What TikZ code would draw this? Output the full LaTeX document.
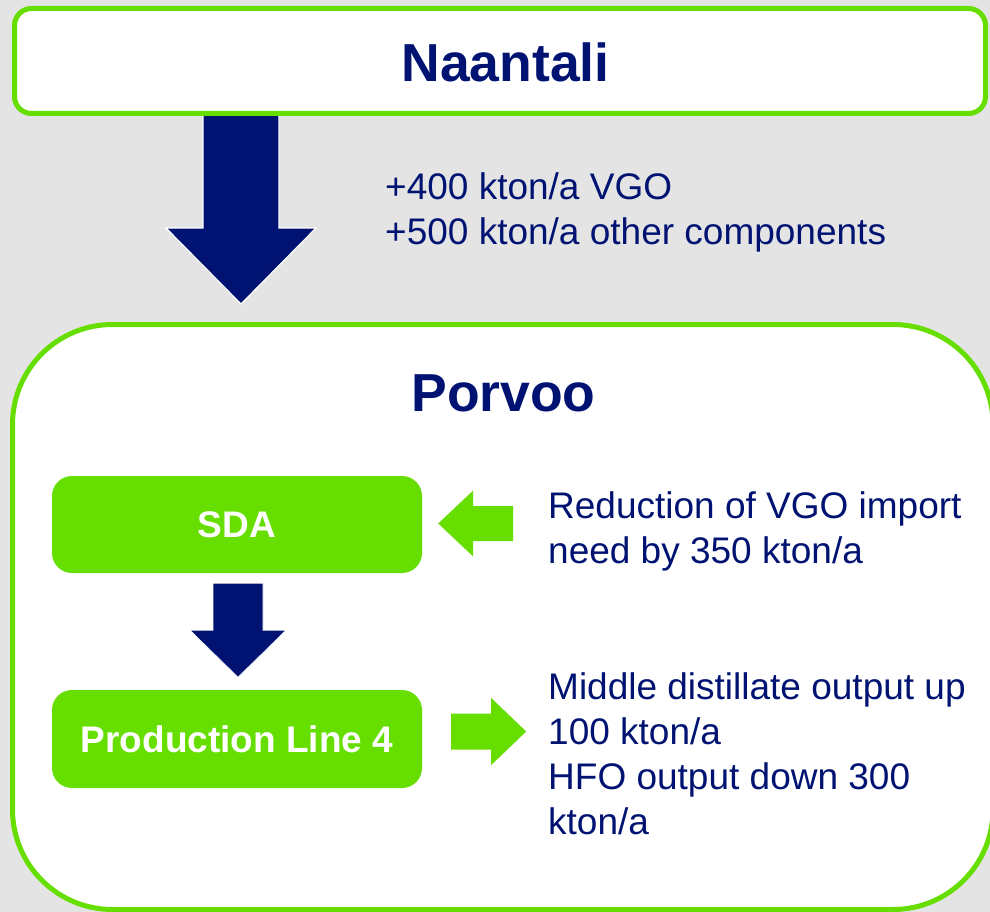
\documentclass[tikz,border=0pt]{standalone}
\usepackage{fontspec}
\setmainfont{Liberation Sans}
\usetikzlibrary{positioning,calc}

\definecolor{navy}{RGB}{0,19,114}
\definecolor{lime}{RGB}{102,222,0}
\definecolor{bggray}{RGB}{228,228,228}

\begin{document}
\begin{tikzpicture}[x=1pt,y=-1pt,
  sitebox/.style={draw=lime,line width=5pt,fill=white,inner sep=0pt},
  title/.style={text=navy,font=\fontsize{53.5}{60}\selectfont\bfseries,inner sep=0pt},
  unitbox/.style={fill=lime,rounded corners=20pt,text=white,font=\fontsize{37}{44}\selectfont\bfseries,minimum width=370pt},
  note/.style={text=navy,font=\fontsize{37}{45}\selectfont,align=left,anchor=north west,inner sep=0pt},
  bigflow/.style={fill=navy,draw=white,line width=1.2pt},
  sideflow/.style={fill=lime}]
\path[use as bounding box,clip] (0,0) rectangle (990,912);
\fill[bggray] (0,0) rectangle (990,912);

% flow from Naantali down to Porvoo
\coordinate (flow) at (241,112);
\filldraw[bigflow] (flow) ++(-38,0) -- ++(0,116) -- ++(-37,0) -- ++(75,76)
  -- ++(75,-76) -- ++(-37,0) -- ++(0,-116) -- cycle;

\node[sitebox,rounded corners=17pt,minimum width=971pt,minimum height=105pt] (naantali) at (500,61) {};
\node[title,anchor=base] (naantalilabel) at (505.5,82) {Naantali};

\node[note] (import) at (385,172.6) {+400 kton/a VGO\\+500 kton/a other components};

% Porvoo site
\node[sitebox,rounded corners=100pt,minimum width=980.5pt,minimum height=585pt] (porvoo) at (502.75,617) {};
\node[title,anchor=base] (porvoolabel) at (503.5,411) {Porvoo};

\node[unitbox,minimum height=97pt] (sda) at (237,524.5) {SDA};
\node[unitbox,minimum height=98pt] (pl4) at (237,739) {Production Line 4};

\filldraw[bigflow,line width=0.6pt] ($(sda.south)+(1,10)$) ++(-25,0) -- ++(0,47) -- ++(-23,0)
  -- ++(48,47) -- ++(48,-47) -- ++(-23,0) -- ++(0,-47) -- cycle;

% side effects
\coordinate (intip) at ($(sda.east)+(16,-1)$);
\fill[sideflow] (intip) -- ++(35,-33) -- ++(0,15.5) -- ++(40,0) -- ++(0,35)
  -- ++(-40,0) -- ++(0,15.5) -- cycle;
\coordinate (outtail) at ($(pl4.east)+(29,-25.5)$);
\fill[sideflow] (outtail) -- ++(40,0) -- ++(0,-15.5) -- ++(35,33.5) -- ++(-35,33.5)
  -- ++(0,-15.5) -- ++(-40,0) -- cycle;

\node[note] (reduction) at (548,491.2) {Reduction of VGO import\\need by 350 kton/a};
\node[note] (output) at (548,672.2) {Middle distillate output up\\100 kton/a\\HFO output down 300\\kton/a};
\end{tikzpicture}
\end{document}
